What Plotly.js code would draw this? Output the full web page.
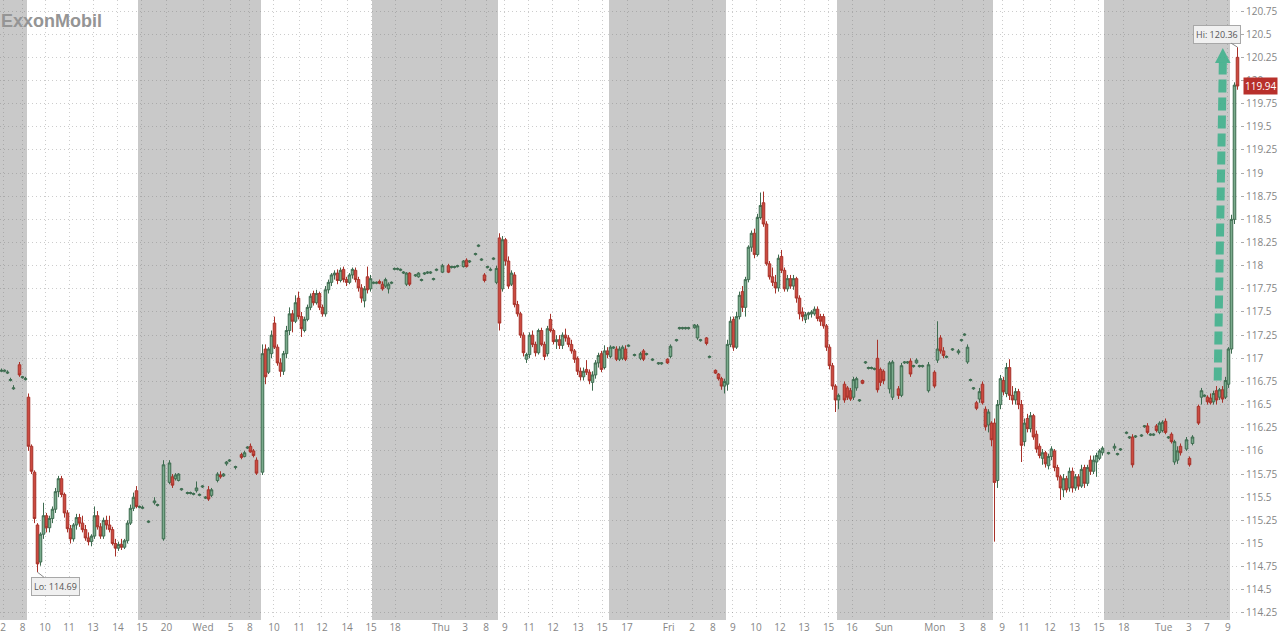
<!DOCTYPE html>
<html>
<head>
<meta charset="utf-8">
<script src="https://cdn.plot.ly/plotly-3.0.1.min.js"></script>
<style>html,body{margin:0;padding:0;background:#fff;}#chart{width:1280px;height:635px;}</style>
</head>
<body>
<div id="chart"></div>
<script>
// Bar index (time slot) of each candle
const barIdx = [
 0,1,2,3,4,6,7,8,
 9,10,11,12,13,14,15,16,17,18,19,20,21,22,23,24,25,26,27,28,29,30,31,32,33,34,35,36,37,38,39,40,41,42,43,44,45,
 46,47,49,51,52,54,56,57,58,59,60,62,63,64,65,66,67,68,69,70,72,73,74,75,76,78,80,81,82,83,84,85,
 87,88,89,90,91,92,93,94,95,96,97,98,99,100,101,102,103,104,105,106,107,108,109,110,111,112,113,114,115,116,117,118,119,120,121,122,123,
 124,125,126,127,128,129,130,131,132,133,134,135,136,138,139,140,141,142,143,144,145,147,149,150,151,152,154,155,156,158,159,160,161,162,163,164,165,
 166,167,168,169,170,171,172,173,174,175,176,177,178,179,180,181,182,183,184,185,186,187,188,189,190,191,192,193,194,195,196,197,198,199,200,201,202,
 203,204,205,206,207,208,209,211,213,214,215,217,219,220,222,223,225,226,227,228,229,231,232,233,235,236,238,239,240,241,
 242,243,244,245,246,247,248,249,250,251,252,253,254,255,256,257,258,259,260,261,262,263,264,265,266,267,268,269,270,271,272,273,274,275,276,277,278,
 279,281,282,283,284,285,286,287,288,289,290,291,292,293,294,296,297,299,300,301,302,303,304,305,306,307,309,311,312,313,314,315,317,319,320,321,322,323,324,325,326,327,328,329,330,
 331,332,333,334,335,336,337,338,339,340,341,342,343,344,345,346,347,348,349,350,351,352,353,354,355,356,357,358,359,360,361,362,363,364,365,366,367,
 369,371,372,373,375,376,377,378,380,381,382,383,384,385,386,387,388,389,390,391,392,393,395,396,397,399,400,401,402,403,404,405,406,407,408,409,
 410,411,412
];
const openPx = [
 116.86,116.86,116.84,116.76,116.67,116.93,116.79,116.77,
 116.58,116.05,115.77,115.20,114.80,115.10,115.30,115.17,115.27,115.37,115.56,115.70,115.53,115.33,115.16,115.05,115.20,115.28,115.22,115.15,115.06,115.02,115.08,115.30,115.18,115.08,115.25,115.20,115.15,115.00,114.95,114.99,114.96,115.03,115.22,115.38,115.57,
 115.39,115.38,115.23,115.44,115.41,115.05,115.66,115.72,115.70,115.68,115.58,115.54,115.54,115.53,115.57,115.52,115.61,115.49,115.58,115.52,115.68,115.74,115.73,115.86,115.89,115.82,115.96,115.94,116.03,116.05,116.00,115.90,
 115.77,117.10,116.85,117.05,117.38,117.12,116.95,116.86,117.05,117.30,117.48,117.40,117.65,117.45,117.30,117.42,117.55,117.70,117.60,117.70,117.55,117.48,117.74,117.82,117.90,117.92,117.84,117.96,117.85,117.82,117.90,117.95,117.85,117.76,117.62,117.88,117.75,
 117.81,117.81,117.83,117.80,117.78,117.75,117.81,117.96,117.96,117.95,117.92,117.80,117.92,117.89,117.88,117.84,117.91,117.92,117.92,117.85,117.95,117.93,118.00,117.98,117.98,117.99,117.99,118.06,118.04,118.12,118.21,118.06,117.90,117.98,117.95,118.07,117.82,
 118.30,117.75,118.28,118.05,117.80,117.90,117.58,117.48,117.25,116.99,117.04,117.25,117.15,117.06,117.30,117.15,117.05,117.42,117.30,117.18,117.20,117.14,117.25,117.22,117.15,117.08,117.00,116.86,116.80,116.88,116.85,116.74,116.82,116.95,117.05,116.90,117.08,
 117.02,117.11,117.10,116.99,117.00,117.10,117.13,117.03,117.00,117.08,117.04,116.98,116.94,116.94,116.99,117.02,117.19,117.32,117.32,117.32,117.32,117.33,117.22,117.19,117.22,117.01,116.87,116.83,116.78,116.70,
 116.72,117.15,117.42,117.12,117.45,117.72,117.55,117.85,118.20,118.35,118.12,118.52,118.68,118.45,118.02,117.88,117.82,117.76,118.10,117.95,117.75,117.86,117.78,117.86,117.65,117.50,117.42,117.47,117.48,117.48,117.53,117.45,117.45,117.35,117.12,116.92,116.70,
 116.55,116.72,116.68,116.65,116.58,116.68,116.54,116.76,116.95,116.89,116.89,116.88,117.00,116.88,116.86,116.67,116.58,116.67,116.60,116.95,116.95,116.97,116.91,116.95,116.91,116.91,116.65,116.85,116.98,117.22,117.08,117.01,117.09,117.06,117.19,117.25,116.96,116.76,116.67,116.52,116.56,116.72,116.45,116.28,116.30,
 116.30,115.68,116.50,116.76,116.62,116.90,116.60,116.55,116.64,116.50,116.10,116.35,116.24,116.38,116.18,116.05,115.92,115.98,115.84,115.94,116.00,115.82,115.72,115.58,115.70,115.60,115.78,115.60,115.72,115.62,115.82,115.65,115.90,115.78,115.88,115.92,115.98,
 115.97,116.03,115.96,116.01,116.19,116.14,116.15,116.15,116.16,116.26,116.27,116.17,116.17,116.27,116.20,116.22,116.32,116.14,116.18,115.88,115.90,116.05,116.02,115.92,116.08,116.48,116.58,116.59,116.58,116.57,116.53,116.65,116.58,116.66,116.58,116.72,
 117.10,118.50,120.25
];
const highPx = [
 116.89,116.88,116.87,116.79,116.71,116.96,116.81,116.80,
 116.62,116.07,115.79,115.22,115.12,115.44,115.33,115.30,115.40,115.60,115.73,115.73,115.55,115.36,115.20,115.22,115.32,115.32,115.30,115.20,115.12,115.10,115.40,115.35,115.22,115.28,115.30,115.30,115.18,115.05,115.02,115.05,115.05,115.25,115.42,115.55,115.62,
 115.41,115.41,115.25,115.50,115.43,115.90,115.90,115.75,115.76,115.76,115.60,115.56,115.56,115.55,115.67,115.54,115.63,115.51,115.62,115.60,115.77,115.78,115.76,115.89,115.91,115.84,115.98,116.00,116.05,116.08,116.02,115.93,
 117.15,117.15,117.12,117.30,117.45,117.15,117.00,117.08,117.35,117.55,117.52,117.68,117.72,117.50,117.45,117.58,117.70,117.73,117.74,117.72,117.58,117.78,117.85,117.92,117.95,117.96,117.98,117.99,117.88,117.92,117.98,117.98,117.88,117.80,117.78,117.99,117.90,
 117.83,117.83,117.85,117.83,117.87,117.82,117.83,117.98,117.98,117.97,117.94,117.93,117.93,117.91,117.93,117.86,117.93,117.94,117.94,117.87,117.97,118.02,118.02,118.00,118.00,118.01,118.06,118.08,118.06,118.14,118.23,118.08,117.92,118.00,117.98,118.09,118.00,
 118.35,118.32,118.30,118.10,117.95,117.93,117.62,117.50,117.28,117.06,117.28,117.30,117.18,117.32,117.33,117.18,117.35,117.48,117.32,117.25,117.25,117.28,117.32,117.25,117.20,117.10,117.02,116.90,116.90,116.98,116.88,116.86,116.98,117.06,117.08,117.14,117.12,
 117.14,117.13,117.13,117.13,117.14,117.14,117.15,117.05,117.07,117.10,117.06,117.00,116.96,116.96,117.00,117.15,117.21,117.34,117.34,117.34,117.34,117.37,117.37,117.21,117.23,117.03,116.88,116.84,116.80,116.78,
 117.20,117.45,117.45,117.50,117.72,117.78,117.88,118.22,118.38,118.40,118.56,118.79,118.80,118.48,118.05,117.98,117.90,118.12,118.17,117.98,117.90,117.90,117.90,117.88,117.68,117.55,117.50,117.50,117.52,117.56,117.56,117.48,117.48,117.37,117.15,116.95,116.72,
 116.62,116.75,116.70,116.68,116.80,116.80,116.56,116.77,116.97,116.91,116.91,116.90,117.20,116.90,116.88,116.97,116.98,116.70,116.95,116.97,116.97,117.00,116.93,117.00,116.93,116.93,116.96,116.87,117.40,117.25,117.12,117.03,117.11,117.10,117.21,117.27,117.15,116.78,116.69,116.54,116.68,116.75,116.48,116.45,116.32,
 116.35,116.55,116.82,116.80,116.95,116.99,116.70,116.68,116.67,116.55,116.35,116.40,116.42,116.40,116.22,116.08,116.02,116.00,115.97,116.05,116.02,115.85,115.74,115.75,115.73,115.82,115.82,115.75,115.75,115.85,115.85,115.85,115.95,115.95,115.98,116.02,116.05,
 115.99,116.08,115.98,116.03,116.21,116.16,116.18,116.17,116.18,116.28,116.30,116.19,116.19,116.29,116.32,116.33,116.35,116.16,116.20,116.12,116.05,116.08,116.15,115.94,116.17,116.50,116.68,116.61,116.60,116.62,116.65,116.70,116.68,116.70,116.80,117.12,
 118.55,119.98,120.36
];
const lowPx = [
 116.85,116.85,116.83,116.75,116.66,116.80,116.78,116.76,
 116.00,115.75,115.22,114.69,114.76,115.05,115.12,115.12,115.22,115.33,115.50,115.50,115.28,115.12,115.00,115.02,115.15,115.18,115.12,115.03,114.98,114.97,115.05,115.15,115.05,115.05,115.15,115.12,114.98,114.86,114.92,114.93,114.94,115.00,115.20,115.35,115.38,
 115.38,115.37,115.22,115.42,115.40,115.03,115.64,115.60,115.68,115.67,115.57,115.53,115.53,115.52,115.55,115.51,115.60,115.48,115.46,115.50,115.66,115.70,115.72,115.84,115.88,115.80,115.91,115.93,116.02,115.98,115.93,115.74,
 115.74,116.72,116.83,117.00,117.10,116.92,116.80,116.82,117.00,117.25,117.28,117.38,117.42,117.23,117.28,117.40,117.52,117.57,117.58,117.52,117.45,117.45,117.70,117.78,117.85,117.80,117.82,117.82,117.78,117.80,117.86,117.82,117.72,117.60,117.55,117.70,117.72,
 117.80,117.80,117.80,117.73,117.76,117.70,117.80,117.95,117.95,117.94,117.91,117.78,117.78,117.88,117.87,117.83,117.90,117.91,117.91,117.84,117.94,117.92,117.92,117.97,117.97,117.98,117.98,117.98,118.03,118.11,118.20,118.05,117.82,117.97,117.94,118.06,117.80,
 117.30,117.72,118.00,117.75,117.78,117.55,117.45,117.22,117.02,116.95,117.00,117.12,117.02,117.04,117.13,116.98,117.02,117.28,117.15,117.10,117.10,117.10,117.18,117.12,117.05,116.95,116.82,116.76,116.76,116.82,116.72,116.65,116.78,116.90,116.85,116.88,117.00,
 117.00,117.10,116.97,116.97,116.98,116.97,117.12,117.02,116.98,116.97,117.03,116.97,116.93,116.93,116.94,117.00,117.18,117.31,117.31,117.31,117.31,117.32,117.20,117.18,117.14,117.00,116.83,116.76,116.66,116.62,
 116.65,117.12,117.08,117.10,117.42,117.50,117.45,117.82,118.15,118.08,118.10,118.50,118.42,118.00,117.85,117.78,117.70,117.72,117.92,117.72,117.72,117.75,117.74,117.60,117.42,117.40,117.38,117.42,117.44,117.46,117.40,117.35,117.32,117.08,116.88,116.66,116.42,
 116.45,116.52,116.55,116.54,116.55,116.65,116.53,116.72,116.94,116.88,116.88,116.87,116.63,116.70,116.72,116.62,116.55,116.56,116.58,116.94,116.94,116.80,116.90,116.94,116.90,116.90,116.63,116.68,116.95,117.05,117.00,117.00,117.08,117.04,117.18,117.24,116.94,116.75,116.66,116.44,116.52,116.50,116.22,116.20,116.05,
 115.02,115.60,116.45,116.60,116.58,116.55,116.50,116.50,116.45,115.88,116.05,116.20,116.20,116.12,115.98,115.92,115.85,115.82,115.80,115.90,115.78,115.68,115.47,115.50,115.55,115.56,115.55,115.57,115.58,115.60,115.60,115.62,115.74,115.75,115.72,115.90,115.95,
 115.96,116.00,115.95,116.00,116.18,116.13,115.82,116.14,116.15,116.25,116.18,116.16,116.16,116.20,116.18,116.20,116.18,116.13,116.08,115.85,115.86,115.95,116.00,115.83,116.06,116.28,116.50,116.58,116.50,116.50,116.50,116.50,116.55,116.52,116.56,116.68,
 117.05,118.45,119.90
];
const closePx = [
 116.87,116.87,116.85,116.77,116.68,116.82,116.80,116.78,
 116.05,115.78,115.27,114.78,115.10,115.30,115.17,115.27,115.37,115.56,115.70,115.53,115.33,115.16,115.05,115.20,115.28,115.22,115.15,115.06,115.02,115.08,115.30,115.18,115.08,115.25,115.20,115.15,115.00,114.95,114.99,114.96,115.03,115.22,115.38,115.50,115.40,
 115.40,115.39,115.24,115.46,115.42,115.85,115.87,115.63,115.74,115.75,115.59,115.55,115.55,115.54,115.60,115.53,115.62,115.50,115.48,115.58,115.75,115.72,115.75,115.88,115.90,115.83,115.93,115.98,116.04,115.99,115.95,115.76,
 117.05,116.80,117.10,117.25,117.12,116.95,116.86,117.05,117.30,117.48,117.40,117.60,117.45,117.32,117.42,117.55,117.67,117.60,117.70,117.55,117.48,117.74,117.82,117.90,117.92,117.84,117.95,117.85,117.82,117.90,117.96,117.85,117.76,117.65,117.75,117.74,117.86,
 117.82,117.82,117.81,117.75,117.85,117.80,117.82,117.97,117.97,117.96,117.93,117.92,117.80,117.90,117.92,117.85,117.92,117.93,117.93,117.86,117.96,118.00,117.93,117.99,117.99,118.00,118.05,117.99,118.05,118.13,118.22,118.07,117.84,117.99,117.96,118.08,117.97,
 117.38,118.28,118.05,117.78,117.92,117.58,117.48,117.25,117.06,117.04,117.25,117.15,117.06,117.30,117.15,117.02,117.32,117.30,117.18,117.20,117.14,117.25,117.22,117.15,117.08,116.99,116.86,116.80,116.86,116.85,116.76,116.82,116.95,117.03,116.88,117.08,117.04,
 117.12,117.12,116.99,117.10,117.12,116.99,117.14,117.04,117.05,116.99,117.05,116.99,116.95,116.95,116.95,117.13,117.20,117.33,117.33,117.33,117.33,117.36,117.35,117.20,117.16,117.02,116.84,116.78,116.70,116.75,
 117.15,117.40,117.12,117.45,117.68,117.55,117.85,118.20,118.35,118.12,118.52,118.65,118.45,118.02,117.88,117.82,117.76,118.08,117.95,117.75,117.86,117.78,117.86,117.65,117.48,117.45,117.47,117.49,117.50,117.53,117.43,117.40,117.35,117.12,116.92,116.70,116.55,
 116.60,116.55,116.58,116.56,116.77,116.78,116.55,116.73,116.96,116.90,116.90,116.89,116.66,116.74,116.76,116.95,116.96,116.60,116.92,116.96,116.96,116.83,116.92,116.98,116.92,116.92,116.93,116.70,117.10,117.08,117.03,117.02,117.10,117.08,117.20,117.26,117.12,116.77,116.68,116.46,116.64,116.52,116.26,116.42,116.12,
 115.66,116.50,116.78,116.64,116.90,116.60,116.55,116.64,116.50,116.06,116.30,116.24,116.38,116.15,116.02,115.95,115.98,115.86,115.94,116.02,115.82,115.72,115.60,115.70,115.58,115.78,115.60,115.72,115.62,115.80,115.65,115.82,115.78,115.90,115.95,116.00,116.03,
 115.98,116.05,115.97,116.02,116.20,116.15,115.85,116.16,116.17,116.27,116.20,116.18,116.18,116.22,116.30,116.31,116.20,116.15,116.10,116.10,116.00,115.98,116.12,115.85,116.15,116.30,116.65,116.60,116.53,116.52,116.62,116.55,116.66,116.56,116.76,117.10,
 118.50,119.95,119.94
];

// Regular-session first bar index (each session 37 bars); the rest is off-hours (shaded)
const sessionStart = [9, 87, 166, 242, 331, 410];
const sessionBars = 37;

// X tick positions (bar index) and labels
const tickIdx = [0.5,7,14.5,22.5,30.5,38.8,46.8,55,67.2,76.4,82.8,90.8,99.2,106.8,115.2,123.2,131.2,146.5,154.5,161.5,167.8,175.8,183.8,192.2,200.2,208.5,222.4,230.2,237.1,243.8,251.5,259.5,267.5,275.7,283.5,294.2,311.1,320.2,327.2,333.5,340.8,349.5,357.7,365.8,374.1,387.4,395.8,401.8,408.8];
const tickLbl = ['2','8','10','11','13','14','15','20','Wed','5','8','10','11','12','14','15','18','Thu','3','8','9','11','12','13','15','17','Fri','2','8','9','10','12','13','15','16','Sun','Mon','3','8','9','11','12','13','15','18','Tue','3','7','9'];

// Y ticks
const yTickVals = [114.25,114.5,114.75,115,115.25,115.5,115.75,116,116.25,116.5,116.75,117,117.25,117.5,117.75,118,118.25,118.5,118.75,119,119.25,119.5,119.75,120,120.25,120.5,120.75];
const yTickLbl = ['114.25','114.5','114.75','115','115.25','115.5','115.75','116','116.25','116.5','116.75','117','117.25','117.5','117.75','118','118.25','118.5','118.75','119','119.25','119.5','119.75','120','120.25','120.5','120.75'];

// ---- derived values
const hiVal = Math.max(...highPx);
const hiI = barIdx[highPx.indexOf(hiVal)];
const loVal = Math.min(...lowPx);
const loI = barIdx[lowPx.indexOf(loVal)];
const lastClose = closePx[closePx.length - 1];

const shapes = [];
let prevEnd = -0.5;
sessionStart.forEach(s => {
  shapes.push({type:'rect', xref:'x', yref:'paper', x0:prevEnd, x1:s - 0.5, y0:0, y1:1,
    fillcolor:'#c9c9c9', line:{width:0}, layer:'below'});
  prevEnd = s - 0.5 + sessionBars;
});

// dashed rally arrow
const arrowX0 = hiI - 6.6, arrowX1 = hiI - 4.9;
const arrowY0 = closePx[barIdx.indexOf(408)];
const arrowY1 = hiVal - 0.17;
const arrowColor = 'rgba(52,176,136,0.82)';
shapes.push({type:'line', xref:'x', yref:'y', x0:arrowX0, y0:arrowY0, x1:arrowX1, y1:arrowY1,
  line:{color:arrowColor, width:8, dash:'13px,5px'}});
shapes.push({type:'path', xref:'x', yref:'y',
  path:`M ${arrowX1-2.6},${arrowY1} L ${arrowX1},${hiVal-0.01} L ${arrowX1+2.6},${arrowY1} Z`,
  fillcolor:arrowColor, line:{width:0}});

const gridCol = 'rgba(120,120,120,0.38)';
const gridDash = '1px,3px';
const axFont = {family:'Open Sans, DejaVu Sans, sans-serif', size:10, color:'#858585'};

const trace = {
  type:'candlestick', x:barIdx, open:openPx, high:highPx, low:lowPx, close:closePx,
  increasing:{line:{color:'#3e6c50', width:1}, fillcolor:'#7aab8c'},
  decreasing:{line:{color:'#a8322a', width:1}, fillcolor:'#cc4a40'},
  whiskerwidth:0, hoverinfo:'skip', showlegend:false
};

const layout = {
  width:1280, height:635,
  margin:{l:0, r:40, t:0, b:15},
  paper_bgcolor:'#ffffff', plot_bgcolor:'#ffffff',
  showlegend:false,
  boxgap:0.15, boxgroupgap:0,
  xaxis:{range:[-0.5, 412.83], tickmode:'array', tickvals:tickIdx, ticktext:tickLbl,
    showgrid:true, gridcolor:gridCol, griddash:gridDash, gridwidth:1, zeroline:false, showline:false,
    ticks:'', tickfont:axFont, rangeslider:{visible:false}, fixedrange:true},
  yaxis:{side:'right', range:[114.174, 120.869], tickmode:'array', tickvals:yTickVals, ticktext:yTickLbl,
    showgrid:true, gridcolor:gridCol, griddash:gridDash, gridwidth:1, zeroline:false, showline:false,
    ticks:'outside', ticklen:3, tickcolor:'#aaaaaa', tickfont:axFont, fixedrange:true},
  shapes:shapes,
  annotations:[
    {xref:'paper', yref:'paper', x:0, y:1, xanchor:'left', yanchor:'top', xshift:-1, yshift:-9,
     text:'<b>ExxonMobil</b>', showarrow:false,
     font:{family:'Liberation Sans, Arial, sans-serif', size:18, color:'#959595'}},
    {xref:'x', yref:'y', x:hiI, y:hiVal, text:'Hi: ' + hiVal.toFixed(2), showarrow:true,
     arrowhead:0, arrowwidth:1, arrowcolor:'#8a8a8a', ax:-21, ay:-13,
     bgcolor:'#f0f0f0', bordercolor:'#a8a8a8', borderwidth:1, borderpad:2,
     font:{family:'Open Sans, sans-serif', size:9, color:'#555'}},
    {xref:'x', yref:'y', x:loI, y:loVal, text:'Lo: ' + loVal.toFixed(2), showarrow:true,
     arrowhead:0, arrowwidth:1, arrowcolor:'#8a8a8a', ax:18, ay:14,
     bgcolor:'#f0f0f0', bordercolor:'#a8a8a8', borderwidth:1, borderpad:2,
     font:{family:'Open Sans, sans-serif', size:9, color:'#555'}},
    {xref:'paper', yref:'y', x:1, y:lastClose, xanchor:'left', xshift:3, text:lastClose.toFixed(2),
     showarrow:false, bgcolor:'#b8302b', borderpad:1,
     font:{family:'Open Sans, sans-serif', size:10, color:'#ffffff'}}
  ]
};

Plotly.newPlot('chart', [trace], layout, {staticPlot:true, displayModeBar:false});
</script>
</body>
</html>
